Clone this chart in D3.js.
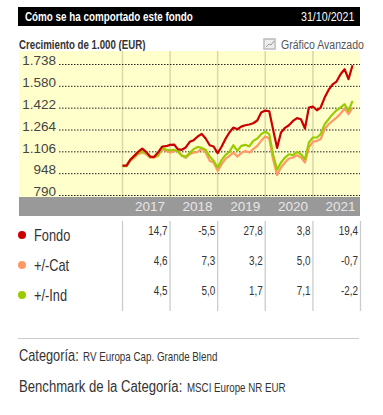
<!DOCTYPE html>
<html>
<head>
<meta charset="utf-8">
<script src="https://cdn.jsdelivr.net/npm/d3@7"></script>
<style>
  html, body { margin: 0; padding: 0; background: #fff; }
  text { font-family: "Liberation Sans", sans-serif; }
</style>
</head>
<body>
<div class="graph"></div>
<script>
'use strict'

const tickValues = [790, 948, 1106, 1264, 1422, 1580, 1738]
const tickLabels = ['790', '948', '1.106', '1.264', '1.422', '1.580', '1.738']
const years = [2017, 2018, 2019, 2020, 2021]

// monthly, first point is the end of 2016
const fondo = [1003, 1003, 1044, 1073, 1102, 1126, 1102, 1068, 1066, 1097, 1141, 1143,
  1153, 1155, 1122, 1117, 1134, 1175, 1187, 1213, 1232, 1199, 1150, 1141,
  1093, 1141, 1194, 1242, 1278, 1266, 1285, 1295, 1300, 1309, 1329, 1387,
  1401, 1396, 1266, 1131, 1242, 1276, 1295, 1326, 1346, 1338, 1271, 1423,
  1430, 1403, 1423, 1495, 1550, 1591, 1611, 1664, 1700, 1628, 1729]
const categoria = [1001, 1001, 1037, 1061, 1085, 1097, 1085, 1061, 1061, 1073, 1122, 1109,
  1097, 1107, 1109, 1078, 1059, 1085, 1097, 1102, 1126, 1097, 1037, 1025,
  965, 1013, 1049, 1073, 1097, 1068, 1093, 1109, 1097, 1122, 1146, 1182,
  1213, 1199, 1049, 934, 989, 1025, 1054, 1061, 1078, 1061, 1025, 1134,
  1175, 1182, 1194, 1266, 1302, 1326, 1350, 1379, 1416, 1375, 1423]
const indice = [999, 999, 1042, 1068, 1093, 1107, 1093, 1066, 1064, 1078, 1134, 1117,
  1114, 1117, 1107, 1073, 1068, 1093, 1122, 1138, 1131, 1117, 1068, 1037,
  989, 1044, 1078, 1102, 1150, 1109, 1146, 1153, 1141, 1182, 1199, 1230,
  1249, 1230, 1085, 972, 1025, 1061, 1085, 1078, 1102, 1085, 1049, 1170,
  1206, 1206, 1230, 1302, 1338, 1375, 1403, 1423, 1447, 1399, 1471]

const seriesNames = ['Fondo', '+/-Cat', '+/-Ind']
const seriesColors = ['#cc0000', '#ff9966', '#99cc00']
const fondoReturns = ['14,7', '-5,5', '27,8', '3,8', '19,4']
const catReturns = ['4,6', '7,3', '3,2', '5,0', '-0,7']
const indReturns = ['4,5', '5,0', '1,7', '7,1', '-2,2']

const svg = d3.select('.graph')
  .append('svg')
  .attr('width', 383)
  .attr('height', 415)
  .style('display', 'block')

const x = d3.scaleTime()
  .domain([new Date(2017, 0, 1), new Date(2022, 0, 1)])
  .range([122.5, 360.5])
const y = d3.scaleLinear()
  .domain([790, 1738])
  .range([195, 64])

// the original uses a narrow face that is not installed, so squeeze the text horizontally
function label(px, py, size, color, str, k, weight) {
  return svg.append('text')
    .attr('transform', 'translate(' + px + ',' + py + ') scale(' + k + ',1)')
    .attr('font-size', size)
    .attr('font-weight', weight || 'normal')
    .attr('fill', color)
    .text(str)
}

// header
svg.append('rect').attr('x', 18).attr('y', 7).attr('width', 342).attr('height', 19).attr('fill', '#000')
label(25, 21, 13.5, '#fff', 'Cómo se ha comportado este fondo', 0.73, 'bold')
label(301, 21, 13.5, '#fff', '31/10/2021', 0.79)

label(19, 49, 13, '#333', 'Crecimiento de 1.000 (EUR)', 0.745, 'bold')
label(281, 49, 13.5, '#555', 'Gráfico Avanzado', 0.78)

// icon next to the link
const icon = svg.append('g').attr('transform', 'translate(264,39)')
icon.append('rect').attr('width', 11).attr('height', 10).attr('fill', '#eee').attr('stroke', '#bbb').attr('stroke-width', 1.5)
icon.append('path').attr('d', 'M2,8L5,5L7,6L10,2').attr('fill', 'none').attr('stroke', '#999')

// plot background
svg.append('rect').attr('x', 19).attr('y', 51).attr('width', 341).attr('height', 146).attr('fill', '#ffffcc')
svg.append('rect').attr('x', 19).attr('y', 197).attr('width', 341).attr('height', 19).attr('fill', '#999')

svg.append('g')
  .selectAll('line')
  .data(years)
  .enter().append('line')
    .attr('x1', d => x(new Date(d, 0, 1)))
    .attr('x2', d => x(new Date(d, 0, 1)))
    .attr('y1', 51)
    .attr('y2', 197)
    .attr('stroke', '#dbd7a8')
    .attr('stroke-width', 1.5)

// y axis, dotted lines act as ticks
const yAxis = svg.append('g')
  .attr('transform', 'translate(59,0)')
  .call(d3.axisLeft(y).tickValues(tickValues).tickFormat((d, i) => tickLabels[i]).tickSize(-301).tickPadding(3))
yAxis.select('.domain').remove()
yAxis.selectAll('.tick line')
  .attr('stroke', '#222')
  .attr('stroke-dasharray', '1.5,1.5')
yAxis.selectAll('.tick text')
  .attr('font-family', '"Liberation Sans", sans-serif')
  .attr('font-size', 13.5)
  .attr('dy', '0.05em')
  .attr('fill', '#444')

const line = d3.line()
  .x((d, i) => x(new Date(2017, i, 1)))
  .y(d => y(d))

const paths = [
  { values: categoria, color: seriesColors[1] },
  { values: indice, color: seriesColors[2] },
  { values: fondo, color: seriesColors[0] }
]
svg.append('g')
  .selectAll('path')
  .data(paths)
  .enter().append('path')
    .attr('d', d => line(d.values))
    .attr('fill', 'none')
    .attr('stroke', d => d.color)
    .attr('stroke-width', 2.2)
    .attr('stroke-linejoin', 'round')

// years in the grey band
svg.append('g')
  .selectAll('text')
  .data(years)
  .enter().append('text')
    .attr('x', d => x(new Date(d + 1, 0, 1)) - 5)
    .attr('y', 211)
    .attr('text-anchor', 'end')
    .attr('font-size', 13.5)
    .attr('fill', '#e6e6e6')
    .text(d => d)

// table under the plot
svg.append('g')
  .selectAll('line')
  .data([2017].concat(years.map(d => d + 1)))
  .enter().append('line')
    .attr('x1', d => x(new Date(d, 0, 1)))
    .attr('x2', d => x(new Date(d, 0, 1)))
    .attr('y1', 221)
    .attr('y2', 311)
    .attr('stroke', '#ccc')
    .attr('stroke-width', 1.3)

const rows = [fondoReturns, catReturns, indReturns]
const rowScale = d3.scalePoint().domain([0, 1, 2]).range([235, 295])

rows.forEach((row, r) => {
  svg.append('circle').attr('cx', 22).attr('cy', rowScale(r)).attr('r', 4).attr('fill', seriesColors[r])
  label(34, rowScale(r) + 6, 16, '#333', seriesNames[r], 0.8)
  svg.append('g')
    .selectAll('text')
    .data(row)
    .enter().append('text')
      .attr('transform', (d, i) => 'translate(' + (x(new Date(years[i] + 1, 0, 1)) - 2.5) + ',' + rowScale(r) + ') scale(0.76,1)')
      .attr('text-anchor', 'end')
      .attr('font-size', 13)
      .attr('fill', '#333')
      .text(d => d)
})

// footer
svg.append('line').attr('x1', 18).attr('x2', 359).attr('y1', 338.5).attr('y2', 338.5).attr('stroke', '#ccc')

label(19, 361, 16, '#333', 'Categoría:', 0.8)
label(83, 361, 13, '#333', 'RV Europa Cap. Grande Blend', 0.755)
label(19, 392, 16, '#333', 'Benchmark de la Categoría:', 0.82)
label(187, 392, 13, '#333', 'MSCI Europe NR EUR', 0.75)
</script>
</body>
</html>
